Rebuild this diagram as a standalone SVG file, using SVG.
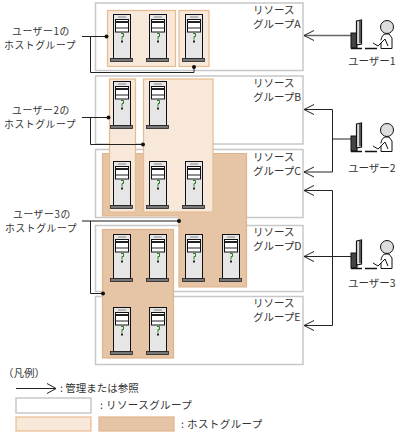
<svg xmlns="http://www.w3.org/2000/svg" width="404" height="434" viewBox="0 0 404 434">
<style>
text{font-family:"Noto Sans CJK JP","Noto Sans",sans-serif;font-size:10.5px;fill:#333}
text.hg{font-size:9.8px;letter-spacing:.6px}
text.lg{letter-spacing:.4px}
.rg{fill:#fff;stroke:#c8c8c8;stroke-width:1.5}
.lt{fill:#f7e8d9;stroke:#e6bb8e;stroke-width:1.2}
.dk{fill:#e6c4a6;stroke:#e0b48a;stroke-width:1.2}
.ln{fill:none;stroke:#222;stroke-width:1}
.gl{fill:none;stroke:#666;stroke-width:1.4}
.dot{fill:#111}
</style>
<defs>
<symbol id="srv" width="24" height="50" viewBox="0 0 24 50" overflow="visible">
<rect x="3.500" y="0.500" width="17" height="44" fill="#e6e6e6" stroke="#111" stroke-width="1"/>
<rect x="8" y="2.500" width="8" height="1" fill="#888"/>
<rect x="5.500" y="5.500" width="13" height="12.500" fill="#fff" stroke="#111" stroke-width="1"/>
<rect x="5.500" y="7" width="13" height="2" fill="#222"/>
<rect x="5.500" y="13.500" width="13" height="1" fill="#222"/>
<path d="M11 19.500h2.500v3h-1.500v3" fill="none" stroke="#2a7a2a" stroke-width="1"/>
<rect x="11" y="26.500" width="2" height="2" fill="#222"/>
<rect x="0.500" y="44.500" width="22" height="3" fill="#777" stroke="#222" stroke-width="0.8"/>
</symbol>
<symbol id="usr" width="56" height="42" viewBox="0 0 56 42" overflow="visible">
<rect x="11" y="23" width="6" height="15" fill="#444" stroke="#111" stroke-width="1"/>
<path d="M16.500 11L21.500 10V34L16.500 35Z" fill="#ddd" stroke="#111" stroke-width="1.2"/>
<path d="M20 11V33" stroke="#333" stroke-width="1.500"/>
<path d="M11 38.500H22M25 38.500H37" stroke="#111" stroke-width="1.400"/>
<circle cx="47" cy="17" r="6.500" fill="#ddd" stroke="#111" stroke-width="1"/>
<path d="M41 38.500V30Q42 24 46 24H49L52 28V38.500Z" fill="#fff" stroke="#111" stroke-width="1"/>
<path d="M33 33L38 36L45 29M45 29L48 36" fill="#fff" stroke="#111" stroke-width="1"/>
</symbol>
</defs>

<g id="resource-a"><rect class="rg" x="95.500" y="3" width="207.500" height="67.500"/><text x="253" y="14">リソース</text><text x="253" y="28">グループA</text></g>
<g id="resource-b"><rect class="rg" x="95.500" y="76" width="207.500" height="68"/><text x="253" y="87">リソース</text><text x="253" y="101">グループB</text></g>
<g id="resource-c"><rect class="rg" x="95.500" y="149.500" width="207.500" height="68"/><text x="253" y="161">リソース</text><text x="253" y="175">グループC</text></g>
<g id="resource-d"><rect class="rg" x="95.500" y="225.500" width="207.500" height="66"/><text x="253" y="236">リソース</text><text x="253" y="250">グループD</text></g>
<g id="resource-e"><rect class="rg" x="95.500" y="296.500" width="207.500" height="68"/><text x="253" y="307">リソース</text><text x="253" y="321">グループE</text></g>

<g id="hostgroup-3a"><path class="dk" d="M102.500 153.500H246.500V287H179V216H102.500Z"/></g>
<g id="hostgroup-3b"><rect class="dk" x="102.500" y="229.500" width="71" height="128.500"/></g>
<g id="hostgroup-1a"><rect class="lt" x="107.500" y="10.500" width="68" height="56"/></g>
<g id="hostgroup-1b"><rect class="lt" x="179" y="10.500" width="30" height="56"/></g>
<g id="hostgroup-2a"><rect class="lt" x="109.500" y="79" width="26" height="133"/></g>
<g id="hostgroup-2b"><rect class="lt" x="143.500" y="79" width="69.500" height="133"/></g>

<g id="servers">
<use href="#srv" x="110" y="14"/><use href="#srv" x="146" y="14"/><use href="#srv" x="182" y="14"/>
<use href="#srv" x="110" y="81"/><use href="#srv" x="146" y="81"/>
<use href="#srv" x="110" y="161"/><use href="#srv" x="146" y="161"/><use href="#srv" x="182" y="161"/>
<use href="#srv" x="110" y="234"/><use href="#srv" x="146" y="234"/><use href="#srv" x="182" y="234"/><use href="#srv" x="219" y="234"/>
<use href="#srv" x="110" y="307"/><use href="#srv" x="146" y="307"/>
</g>

<g id="connectors">
<path class="ln" d="M82 36.500H106M90.500 36.500V72.500H194V67"/>
<path class="ln" d="M82 117.500H108M90.500 117.500V144.500H143"/>
<path class="gl" d="M82 221H178"/>
<path class="ln" d="M90.500 221V293.500H103"/>
<circle class="dot" cx="106.500" cy="36.500" r="2"/><circle class="dot" cx="194" cy="67" r="2"/>
<circle class="dot" cx="108.500" cy="117.500" r="2"/><circle class="dot" cx="143" cy="144.500" r="2"/>
<circle class="dot" cx="179" cy="221" r="2"/><circle class="dot" cx="103" cy="293.500" r="2"/>
<path class="gl" d="M351 35.500H304"/><path d="M314 30.500L304 35.500L314 40.500" class="ln"/>
<path class="ln" d="M351 139H332.500M304 109.500H332.500V172H304M314 104.500L304 109.500L314 114.500M314 167L304 172L314 177"/>
<path class="ln" d="M304 190.500H332.500V325.500H304M314 185.500L304 190.500L314 195.500M314 320.500L304 325.500L314 330.500"/>
<path class="ln" d="M352 256.500H304M314 251.500L304 256.500L314 261.500"/>
</g>

<g id="label-user1-hosts"><text class="hg" x="12" y="34.500">ユーザー1の</text><text class="hg" x="4" y="48.500">ホストグループ</text></g>
<g id="label-user2-hosts"><text class="hg" x="12" y="113.500">ユーザー2の</text><text class="hg" x="4" y="127.500">ホストグループ</text></g>
<g id="label-user3-hosts"><text class="hg" x="13" y="217.500">ユーザー3の</text><text class="hg" x="5" y="231.500">ホストグループ</text></g>

<g id="user-1"><use href="#usr" x="340" y="10"/><text x="348" y="65">ユーザー1</text></g>
<g id="user-2"><use href="#usr" x="340" y="113"/><text x="348" y="172">ユーザー2</text></g>
<g id="user-3"><use href="#usr" x="340" y="230"/><text x="348" y="287">ユーザー3</text></g>

<g id="legend">
<text x="3" y="377">（凡例）</text>
<path class="ln" d="M16 388.500H56M47 383.500L56 388.500L47 393.500"/>
<text x="60" y="392">:  管理または参照</text>
<rect class="rg" x="16" y="398" width="75" height="15"/>
<text class="lg" x="100" y="409">: リソースグループ</text>
<rect class="lt" x="16" y="417" width="75" height="14"/>
<rect class="dk" x="99" y="417" width="75" height="14"/>
<text class="lg" x="181" y="428">: ホストグループ</text>
</g>
</svg>
